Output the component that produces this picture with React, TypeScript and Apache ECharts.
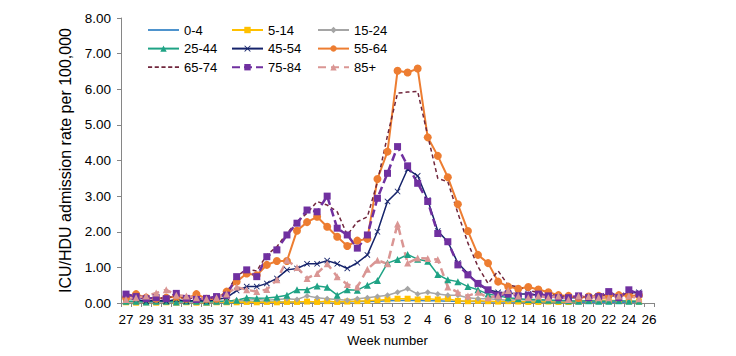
import React, { useEffect, useRef } from "react";
import * as echarts from "echarts";

const weeks: string[] = [
  "27","28","29","30","31","32","33","34","35","36","37","38","39","40","41","42","43","44","45","46","47","48","49","50","51","52","53",
  "1","2","3","4","5","6","7","8","9","10","11","12","13","14","15","16","17","18","19","20","21","22","23","24","25","26",
];

const yTicks: number[] = [0, 1, 2, 3, 4, 5, 6, 7, 8];

const age0_4: (number | null)[] = [
  0.02,0.01,0.02,0.01,0.02,0.01,0.02,0.01,0.02,0.01,0.02,0.02,0.02,0.03,0.02,0.03,0.02,0.03,0.03,0.03,0.04,0.03,0.03,0.04,0.04,0.05,0.06,
  0.07,0.08,0.07,0.06,0.06,0.05,0.05,0.04,0.04,0.03,0.03,0.03,0.02,0.02,0.02,0.02,0.02,0.02,0.02,0.02,0.02,0.02,0.02,0.02,0.02,null,
];
const age5_14: (number | null)[] = [
  0.02,0.01,0.02,0.01,0.02,0.01,0.02,0.01,0.01,0.02,0.02,0.02,0.03,0.02,0.03,0.02,0.03,0.03,0.04,0.03,0.05,0.03,0.04,0.05,0.06,0.08,0.1,
  0.12,0.12,0.1,0.12,0.1,0.12,0.06,0.05,0.06,0.05,0.04,0.05,0.04,0.03,0.03,0.04,0.03,0.03,0.05,0.06,0.08,0.08,0.06,0.05,0.04,null,
];
const age15_24: (number | null)[] = [
  0.03,0.02,0.03,0.02,0.03,0.02,0.03,0.02,0.03,0.03,0.05,0.08,0.08,0.1,0.08,0.1,0.12,0.1,0.2,0.15,0.12,0.1,0.08,0.12,0.15,0.18,0.22,
  0.3,0.4,0.25,0.3,0.25,0.22,0.22,0.15,0.12,0.12,0.1,0.08,0.1,0.08,0.06,0.08,0.05,0.06,0.05,0.06,0.05,0.05,0.06,0.05,0.05,null,
];
const age25_44: (number | null)[] = [
  0.05,0.05,0.03,0.05,0.05,0.03,0.05,0.05,0.03,0.05,0.05,0.08,0.15,0.13,0.14,0.17,0.22,0.37,0.37,0.48,0.44,0.22,0.37,0.36,0.5,0.63,1.12,
  1.22,1.36,1.23,1.17,0.8,0.65,0.6,0.46,0.37,0.25,0.2,0.15,0.12,0.1,0.1,0.08,0.08,0.06,0.05,0.06,0.05,0.05,0.06,0.05,0.05,null,
];
const age45_54: (number | null)[] = [
  0.12,0.1,0.05,0.08,0.05,0.1,0.05,0.08,0.05,0.1,0.15,0.35,0.46,0.46,0.55,0.69,0.93,0.97,1.1,1.1,1.19,1.1,0.97,1.13,1.35,2.0,2.85,
  3.13,3.76,3.57,2.89,2.02,1.72,1.12,0.83,0.51,0.37,0.3,0.28,0.25,0.25,0.22,0.2,0.18,0.15,0.15,0.18,0.2,0.22,0.18,0.28,0.3,null,
];
const age55_64: (number | null)[] = [
  0.15,0.25,0.15,0.12,0.15,0.18,0.12,0.25,0.12,0.12,0.32,0.6,0.83,0.78,1.07,1.18,1.18,2.03,2.27,2.42,2.14,1.86,1.6,1.75,1.8,3.48,4.25,
  6.52,6.47,6.58,4.65,4.13,3.53,2.77,2.02,1.35,1.12,0.6,0.46,0.4,0.45,0.38,0.3,0.22,0.2,0.14,0.18,0.2,0.22,0.22,0.2,0.22,null,
];
const age65_74: (number | null)[] = [
  0.2,0.22,0.15,0.12,0.15,0.18,0.12,0.15,0.12,0.15,0.3,0.75,0.95,0.9,1.35,1.58,1.96,2.28,2.52,2.85,2.75,2.56,1.91,2.28,2.42,3.4,4.7,
  5.89,5.92,5.94,4.7,3.5,3.4,2.52,1.68,1.02,0.55,0.9,0.5,0.45,0.35,0.3,0.25,0.2,0.18,0.15,0.2,0.25,0.2,0.22,0.28,0.25,null,
];
const age75_84: (number | null)[] = [
  0.25,0.18,0.12,0.15,0.12,0.27,0.13,0.1,0.13,0.18,0.22,0.74,0.93,0.74,1.3,1.49,1.91,2.24,2.61,2.56,3.0,2.1,1.91,1.54,1.91,2.94,3.64,
  4.39,3.85,3.36,2.85,1.95,1.72,1.07,0.79,0.55,0.37,0.22,0.25,0.2,0.22,0.25,0.2,0.15,0.15,0.2,0.15,0.18,0.32,0.15,0.37,0.25,null,
];
const age85plus: (number | null)[] = [
  0.1,0.15,0.2,0.28,0.37,0.22,0.2,0.15,0.12,0.15,0.25,0.45,0.37,0.32,0.38,0.65,1.2,1.0,0.69,0.83,1.1,0.74,0.52,0.45,0.95,1.2,1.1,
  2.22,1.12,1.26,1.25,1.22,0.45,0.3,0.2,0.3,0.15,0.2,0.35,0.2,0.15,0.2,0.15,0.2,0.1,0.2,0.18,0.15,0.15,0.2,0.2,0.12,null,
];

const FONT = "'Liberation Sans', Arial, sans-serif";
const XMARK = "path://M0,1L1,0L5,4L9,0L10,1L6,5L10,9L9,10L5,6L1,10L0,9L4,5Z";

// legend icons for line-only series (thin bar, or thin dashed bars)
const solidIcon = "path://M0,0h31v1.8h-31z";
const dashedIcon = (() => {
  let d = "path://";
  for (let x = 0; x < 31; x += 6.5) {
    d += `M${x},0h4v1.6h-4z`;
  }
  return d;
})();

type SDef = {
  name: string;
  data: (number | null)[];
  color: string;
  width: number;
  dash?: number[];
  symbol: string;
  size: number;
  icon?: string;
};

const defs: SDef[] = [
  { name: "0-4", data: age0_4, color: "#3A87C8", width: 1.5, symbol: "none", size: 0, icon: solidIcon },
  { name: "5-14", data: age5_14, color: "#FFC000", width: 1.5, symbol: "rect", size: 6 },
  { name: "15-24", data: age15_24, color: "#A5A5A5", width: 1.5, symbol: "diamond", size: 6 },
  { name: "25-44", data: age25_44, color: "#1FA385", width: 1.5, symbol: "triangle", size: 7 },
  { name: "45-54", data: age45_54, color: "#15236B", width: 1.5, symbol: XMARK, size: 6 },
  { name: "55-64", data: age55_64, color: "#ED7D31", width: 2, symbol: "circle", size: 8 },
  { name: "65-74", data: age65_74, color: "#70263C", width: 1.5, dash: [4, 3], symbol: "none", size: 0, icon: dashedIcon },
  { name: "75-84", data: age75_84, color: "#7030A0", width: 2.5, dash: [8, 4], symbol: "rect", size: 7 },
  { name: "85+", data: age85plus, color: "#DA9694", width: 2.5, dash: [8, 5], symbol: "triangle", size: 7 },
];

export default function App() {
  const ref = useRef<HTMLDivElement>(null);
  useEffect(() => {
    document.body.style.margin = "0";
    if (!ref.current) return;
    const chart = echarts.init(ref.current, undefined, { renderer: "svg" });
    const legendCol = (names: string[], left: number) => ({
      orient: "vertical",
      left,
      top: 18,
      itemWidth: 31,
      itemHeight: 8,
      itemGap: 4.6,
      data: names.map((n) => {
        const d = defs.find((s) => s.name === n)!;
        return d.icon ? { name: n, icon: d.icon } : { name: n };
      }),
      textStyle: { fontSize: 13, color: "#000", fontFamily: FONT, lineHeight: 14 },
    });
    chart.setOption({
      animation: false,
      textStyle: { fontFamily: FONT },
      legend: [
        legendCol(["0-4", "25-44", "65-74"], 142),
        legendCol(["5-14", "45-54", "75-84"], 226),
        legendCol(["15-24", "55-64", "85+"], 312),
      ],
      grid: { left: 121, right: 82, top: 18, bottom: 53, containLabel: false },
      xAxis: {
        type: "category",
        data: weeks,
        boundaryGap: true,
        name: "Week number",
        nameLocation: "middle",
        nameGap: 31,
        nameTextStyle: { fontSize: 13, color: "#000", fontFamily: FONT },
        axisLine: { lineStyle: { color: "#868686", width: 1 } },
        axisTick: { show: true, interval: 0, length: 4, lineStyle: { color: "#868686" } },
        axisLabel: { interval: 1, fontSize: 13.5, color: "#000", margin: 9, fontFamily: FONT },
        splitLine: { show: false },
      },
      yAxis: {
        type: "value",
        min: yTicks[0],
        max: yTicks[yTicks.length - 1],
        interval: 1,
        name: "ICU/HDU admission rate per 100,000",
        nameLocation: "middle",
        nameGap: 44,
        nameTextStyle: { fontSize: 16, color: "#000", fontFamily: FONT },
        axisLine: { show: true, lineStyle: { color: "#868686", width: 1 } },
        axisTick: { show: true, length: 4, lineStyle: { color: "#868686" } },
        axisLabel: { fontSize: 13.5, color: "#000", margin: 10, fontFamily: FONT, formatter: (v: number) => v.toFixed(2) },
        splitLine: { show: false },
      },
      series: defs.map((d) => ({
        name: d.name,
        type: "line",
        data: d.data,
        symbol: d.symbol,
        symbolSize: d.size,
        showSymbol: d.symbol !== "none",
        showAllSymbol: true,
        connectNulls: false,
        lineStyle: { color: d.color, width: d.width, type: d.dash ? d.dash : "solid" },
        itemStyle: { color: d.color, borderColor: d.color, borderWidth: 0 },
        emphasis: { disabled: true },
      })),
    });
    return () => chart.dispose();
  }, []);
  return <div ref={ref} style={{ width: 736, height: 356 }} />;
}
